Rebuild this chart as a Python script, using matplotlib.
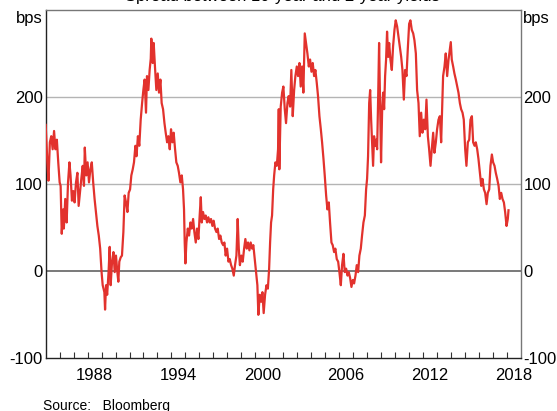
import numpy as np
import matplotlib
matplotlib.use('Agg')
import matplotlib.pyplot as plt
from matplotlib.ticker import FixedLocator

plt.rcParams['font.family'] = ['Liberation Sans', 'DejaVu Sans']

# 数据：10年与2年收益率利差（bps），按图中读数估计
years = [
    1985.00, 1985.12, 1985.20, 1985.30, 1985.40, 1985.50, 1985.60, 1985.70, 1985.80, 1985.90,
    1986.00, 1986.07, 1986.15, 1986.25, 1986.30, 1986.40, 1986.50, 1986.60, 1986.70, 1986.78,
    1986.88, 1986.98, 1987.07, 1987.17, 1987.27, 1987.36, 1987.46, 1987.55, 1987.65, 1987.74,
    1987.80, 1987.90, 1988.00, 1988.10, 1988.20, 1988.30, 1988.40, 1988.50, 1988.60, 1988.70,
    1988.80, 1988.90, 1989.00, 1989.08, 1989.20, 1989.25, 1989.32, 1989.40, 1989.50, 1989.58,
    1989.65, 1989.75, 1989.85, 1989.94, 1990.03, 1990.13, 1990.20, 1990.27, 1990.37, 1990.46,
    1990.56, 1990.65, 1990.75, 1990.85, 1990.94, 1991.04, 1991.13, 1991.23, 1991.32, 1991.42,
    1991.50, 1991.60, 1991.70, 1991.80, 1991.90, 1991.99, 1992.08, 1992.18, 1992.25, 1992.35,
    1992.44, 1992.52, 1992.56, 1992.66, 1992.73, 1992.82, 1992.92, 1993.02, 1993.11, 1993.21,
    1993.30, 1993.40, 1993.50, 1993.59, 1993.69, 1993.78, 1993.88, 1993.97, 1994.07, 1994.16,
    1994.26, 1994.35, 1994.45, 1994.54, 1994.64, 1994.74, 1994.83, 1994.90, 1994.95, 1995.00,
    1995.07, 1995.17, 1995.26, 1995.36, 1995.45, 1995.55, 1995.64, 1995.74, 1995.83, 1995.93,
    1996.02, 1996.10, 1996.17, 1996.26, 1996.36, 1996.45, 1996.55, 1996.64, 1996.74, 1996.83,
    1996.93, 1997.02, 1997.12, 1997.22, 1997.31, 1997.41, 1997.50, 1997.60, 1997.70, 1997.79,
    1997.88, 1997.98, 1998.08, 1998.17, 1998.27, 1998.36, 1998.46, 1998.55, 1998.65, 1998.74,
    1998.82, 1998.90, 1999.00, 1999.10, 1999.20, 1999.29, 1999.39, 1999.48, 1999.58, 1999.67,
    1999.77, 1999.86, 1999.96, 2000.06, 2000.15, 2000.22, 2000.32, 2000.42, 2000.51, 2000.60,
    2000.70, 2000.80, 2000.90, 2000.99, 2001.06, 2001.13, 2001.20, 2001.28, 2001.35, 2001.44,
    2001.54, 2001.63, 2001.68, 2001.72, 2001.82, 2001.92, 2002.01, 2002.11, 2002.20, 2002.30,
    2002.39, 2002.49, 2002.58, 2002.68, 2002.78, 2002.87, 2002.97, 2003.06, 2003.16, 2003.25,
    2003.35, 2003.44, 2003.54, 2003.63, 2003.73, 2003.83, 2003.92, 2004.02, 2004.11, 2004.21,
    2004.30, 2004.40, 2004.49, 2004.59, 2004.69, 2004.78, 2004.88, 2004.97, 2005.07, 2005.16,
    2005.26, 2005.35, 2005.45, 2005.54, 2005.64, 2005.73, 2005.83, 2005.93, 2006.02, 2006.12,
    2006.21, 2006.31, 2006.40, 2006.50, 2006.60, 2006.69, 2006.79, 2006.88, 2006.98, 2007.07,
    2007.17, 2007.26, 2007.36, 2007.45, 2007.55, 2007.64, 2007.74, 2007.84, 2007.93, 2008.00,
    2008.07, 2008.15, 2008.22, 2008.29, 2008.36, 2008.43, 2008.50, 2008.58, 2008.65, 2008.72,
    2008.79, 2008.86, 2008.93, 2009.00, 2009.08, 2009.15, 2009.22, 2009.29, 2009.36, 2009.43,
    2009.51, 2009.58, 2009.67, 2009.77, 2009.86, 2009.96, 2010.05, 2010.15, 2010.25, 2010.34,
    2010.44, 2010.53, 2010.63, 2010.72, 2010.82, 2010.91, 2011.01, 2011.10, 2011.20, 2011.30,
    2011.39, 2011.49, 2011.58, 2011.68, 2011.77, 2011.87, 2011.96, 2012.06, 2012.16, 2012.25,
    2012.35, 2012.44, 2012.54, 2012.63, 2012.73, 2012.82, 2012.92, 2013.01, 2013.11, 2013.21,
    2013.30, 2013.37, 2013.44, 2013.54, 2013.63, 2013.73, 2013.83, 2013.92, 2013.99, 2014.06,
    2014.16, 2014.25, 2014.35, 2014.45, 2014.54, 2014.64, 2014.73, 2014.83, 2014.92, 2015.02,
    2015.11, 2015.21, 2015.31, 2015.40, 2015.50, 2015.59, 2015.69, 2015.78, 2015.88, 2015.97,
    2016.07, 2016.17, 2016.26, 2016.36, 2016.45, 2016.55, 2016.64, 2016.74, 2016.83, 2016.93,
    2017.02, 2017.12, 2017.21, 2017.31, 2017.41, 2017.50, 2017.60, 2017.69, 2017.79, 2017.88,
    2017.98, 2018.07, 2018.12,
]
spread = [
    168, 125, 104, 148, 155, 140, 161, 140, 151, 125,
    102, 98, 43, 71, 49, 83, 56, 102, 125, 110,
    81, 92, 79, 102, 113, 75, 92, 106, 121, 98,
    142, 110, 125, 102, 117, 125, 102, 83, 68, 52,
    41, 26, -1, -16, -24, -44, -16, -27, -1, 28,
    -16, 11, 22, -1, 18, -1, -12, 11, 16, 18,
    45, 87, 79, 68, 90, 94, 110, 117, 125, 144,
    132, 155, 144, 174, 193, 208, 220, 182, 224, 208,
    231, 244, 267, 239, 262, 235, 208, 227, 205, 220,
    193, 186, 170, 159, 148, 155, 140, 163, 148, 159,
    140, 125, 121, 113, 102, 110, 94, 71, 33, 9,
    33, 49, 41, 56, 49, 60, 45, 33, 49, 37,
    64, 85, 56, 68, 60, 64, 56, 62, 56, 60,
    52, 58, 49, 45, 49, 37, 41, 33, 30, 33,
    18, 26, 11, 14, 7, 3, -5, 7, 18, 60,
    26, 7, 18, 11, 26, 37, 26, 33, 24, 33,
    26, 30, 14, -1, -16, -50, -27, -35, -24, -48,
    -27, -16, -20, 3, 33, 56, 64, 94, 110, 125,
    121, 140, 186, 117, 189, 205, 212, 186, 170, 193,
    201, 189, 231, 178, 208, 224, 235, 224, 239, 212,
    235, 205, 273, 262, 250, 235, 243, 229, 239, 224,
    231, 216, 201, 178, 163, 148, 129, 110, 87, 71,
    79, 56, 33, 30, 22, 26, 14, 11, -1, -16,
    7, 20, -1, 3, -5, -1, -8, -18, -10, -14,
    -5, 7, -1, 18, 26, 41, 56, 64, 94, 106,
    132, 193, 208, 174, 148, 121, 155, 144, 151, 140,
    197, 262, 197, 125, 186, 205, 186, 224, 243, 275,
    246, 262, 243, 231, 258, 277, 288, 281, 269, 258,
    246, 231, 197, 231, 224, 254, 284, 288, 277, 273,
    265, 250, 208, 193, 155, 182, 159, 174, 163, 197,
    155, 140, 121, 140, 159, 136, 148, 163, 174, 178,
    148, 186, 224, 235, 250, 224, 243, 254, 263, 243,
    235, 227, 220, 212, 205, 193, 186, 182, 174, 140,
    121, 148, 151, 174, 178, 148, 144, 148, 140, 129,
    113, 98, 106, 94, 90, 77, 90, 94, 121, 134,
    125, 121, 113, 106, 98, 83, 90, 83, 79, 68,
    52, 60, 70,
]

year_labels = ['1988', '1994', '2000', '2006', '2012', '2018']
label_pos = [1988.5, 1994.5, 2000.5, 2006.5, 2012.5, 2018.5]
y_ticks = [-100, 0, 100, 200]

fig = plt.figure(figsize=(5.57, 4.11), dpi=100)
ax = fig.add_axes([0.082, 0.128, 0.853, 0.848])

ax.set_xlim(1985, 2019)
ax.set_ylim(-100, 300)

# 网格线
for v in [100, 200]:
    ax.axhline(v, color='#b4b4b4', lw=1.0, zorder=1)
ax.axhline(0, color='#555555', lw=1.1, zorder=1)

ax.plot(years, spread, color='#e2322d', lw=1.6, zorder=3)

# x轴：每年一个刻度（向内），标签放在年中
ax.xaxis.set_major_locator(FixedLocator(np.arange(1986, 2019)))
ax.xaxis.set_minor_locator(FixedLocator(label_pos))
ax.set_xticklabels([], minor=False)
ax.set_xticklabels(year_labels, minor=True)
ax.tick_params(axis='x', which='major', direction='in', length=4, width=0.8, color='#333333')
ax.tick_params(axis='x', which='minor', length=0, pad=7, labelsize=12)

ax.set_yticks(y_ticks)
ax.set_yticklabels([str(v) for v in y_ticks])
ax.tick_params(axis='y', which='both', length=0, pad=2, labelsize=12,
               left=True, right=True, labelleft=True, labelright=True)

ax.text(-0.006, 0.997, 'bps', transform=ax.transAxes, ha='right', va='top', fontsize=12)
ax.text(1.004, 0.997, 'bps', transform=ax.transAxes, ha='left', va='top', fontsize=12)

for side in ['top', 'right']:
    ax.spines[side].set_color('#777777')
for side in ['left', 'bottom']:
    ax.spines[side].set_color('#222222')
for s in ax.spines.values():
    s.set_linewidth(1.0)

# 标题和来源在原图中都被边缘裁掉一部分
fig.text(0.5075, 1 - 1.5 / 411, 'Spread between 10-year and 2-year yields',
         ha='center', va='baseline', fontsize=12)
fig.text(43 / 557, 1 - 410 / 411, 'Source:   Bloomberg', ha='left', va='baseline', fontsize=10)

plt.savefig('out.png', dpi=100)
plt.close()
